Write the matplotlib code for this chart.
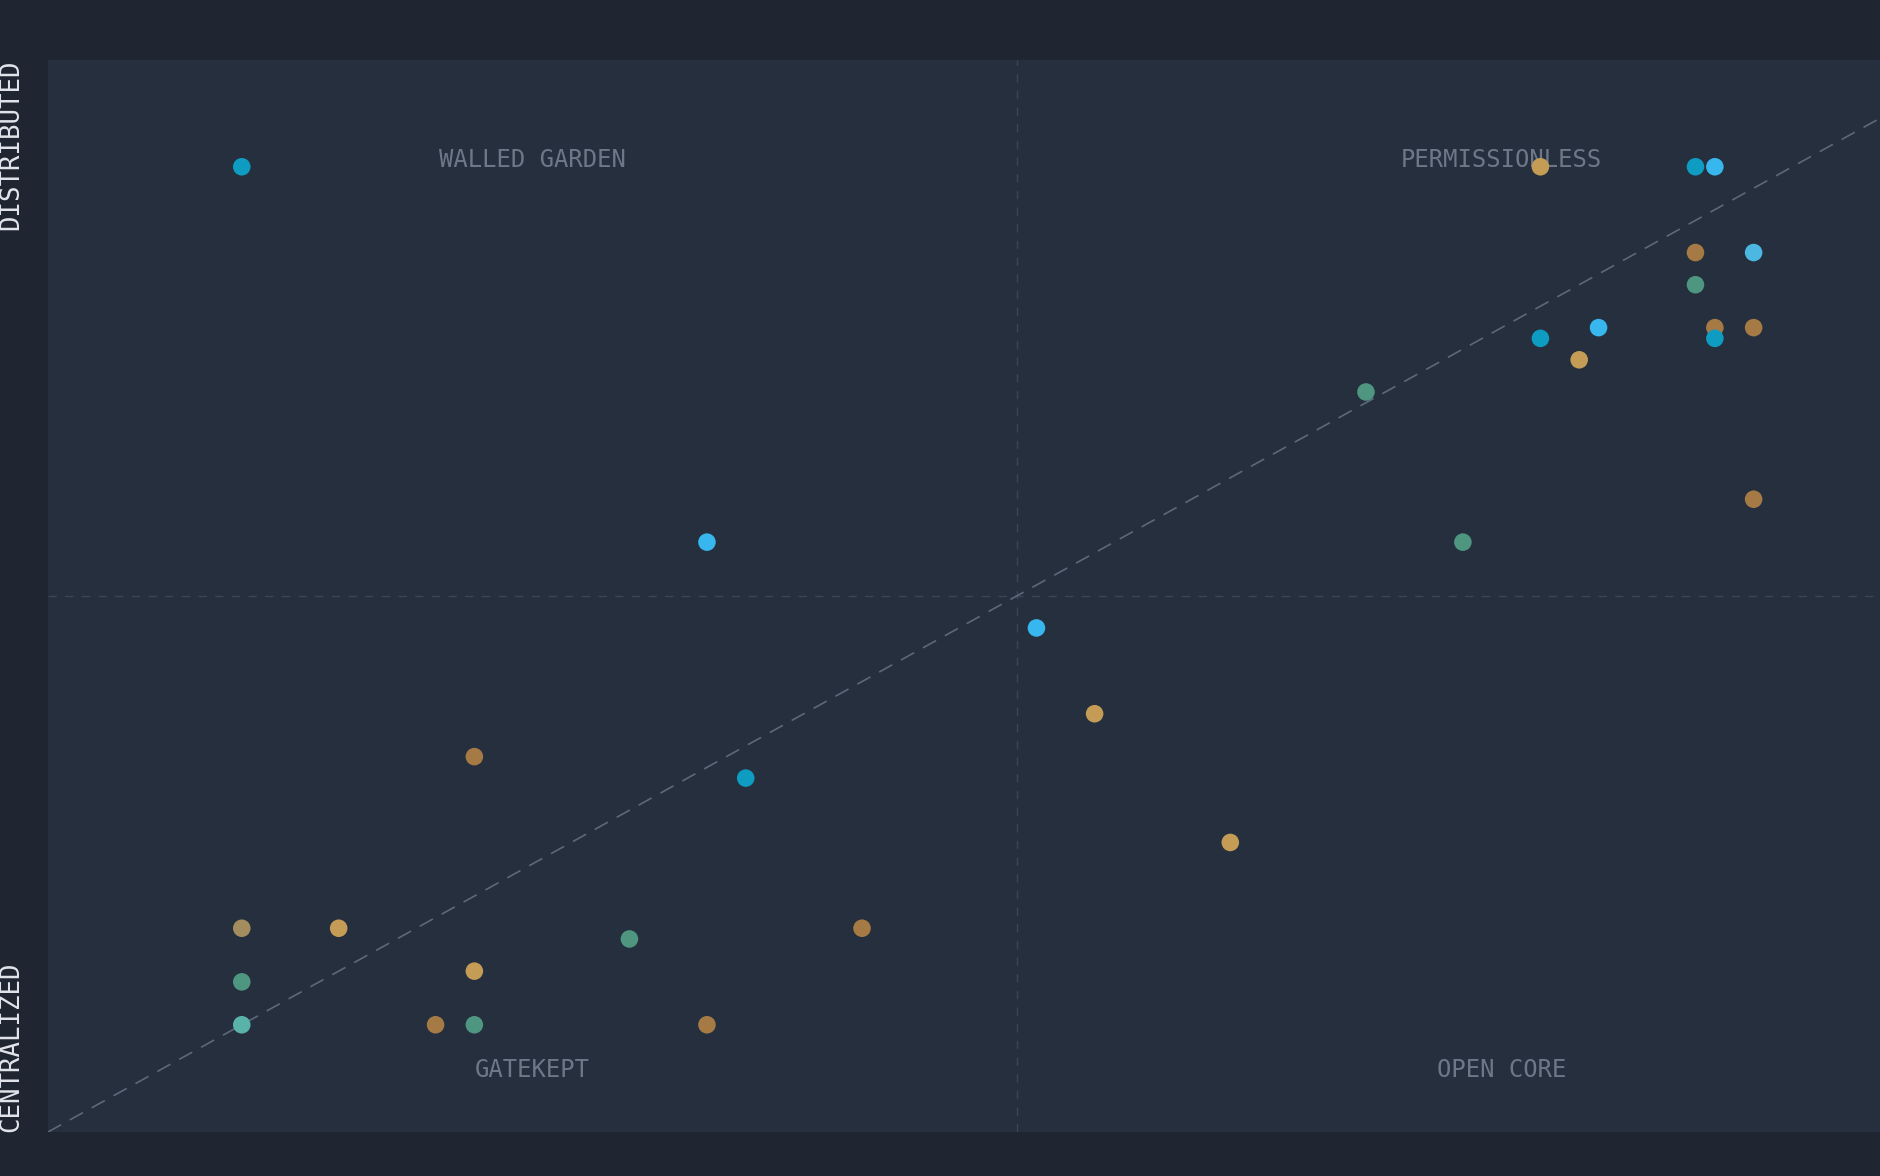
import matplotlib.pyplot as plt

# quadrant chart: access (x) vs. distribution (y)
x_vals = [10, 34, 22, 36, 10, 15, 10, 22, 10, 20, 22, 30, 34, 42,
          51, 54, 61, 68, 73, 77, 77, 79, 80, 85, 86, 85, 88, 85, 86, 86, 88, 88]
y_vals = [90, 55, 35, 33, 19, 19, 14, 15, 10, 10, 10, 18, 10, 19,
          47, 39, 27, 69, 55, 90, 74, 72, 75, 90, 90, 82, 82, 79, 75, 74, 75, 59]
groups = ['cyan', 'sky', 'bronze', 'cyan', 'khaki', 'gold', 'sage', 'gold', 'teal', 'bronze', 'sage', 'sage', 'bronze', 'bronze',
          'sky', 'gold', 'gold', 'sage', 'sage', 'gold', 'cyan', 'gold', 'sky', 'cyan', 'sky', 'bronze', 'pale', 'sage', 'bronze', 'cyan', 'bronze', 'bronze']

quadrant_labels = ['WALLED GARDEN', 'PERMISSIONLESS', 'GATEKEPT', 'OPEN CORE']
quadrant_pos = [(25, 90.6), (75, 90.6), (25, 5.8), (75, 5.8)]
axis_top = 'DISTRIBUTED'
axis_bottom = 'CENTRALIZED'

palette = {
    'cyan': '#0e9cc2',
    'sky': '#38b6ee',
    'pale': '#4cb7e0',
    'bronze': '#a57a45',
    'gold': '#c49c55',
    'khaki': '#a38c5e',
    'sage': '#4f9680',
    'teal': '#5ab3a8',
}

bg = '#1f2631'
panel = '#252f3e'

fig = plt.figure(figsize=(18.8, 11.76), dpi=100)
fig.patch.set_facecolor(bg)
ax = fig.add_axes([0.0255, 0.0374, 1.031, 0.912])
ax.set_facecolor(panel)
ax.set_xlim(0, 100)
ax.set_ylim(0, 100)
for s in ax.spines.values():
    s.set_visible(False)
ax.set_xticks([])
ax.set_yticks([])

# midlines and diagonal
ax.axvline(50, color='#3a4555', lw=1, ls=(0, (6, 6)), zorder=1)
ax.axhline(50, color='#3a4555', lw=1, ls=(0, (6, 6)), zorder=1)
ax.plot([0, 100], [0, 100], color='#5d6878', lw=1.2, ls=(0, (9, 6)), zorder=1)

for (qx, qy), lab in zip(quadrant_pos, quadrant_labels):
    ax.text(qx, qy, lab, ha='center', va='center', fontsize=17.2,
            family='DejaVu Sans Mono', color='#6d7787', zorder=2)

colors = [palette[g] for g in groups]
ax.scatter(x_vals, y_vals, s=160, c=colors, linewidths=0, zorder=3)

fig.text(0.006, 0.949, axis_top, rotation=90, ha='center', va='top',
         fontsize=18.5, family='DejaVu Sans Mono', color='#e2e6ec')
fig.text(0.006, 0.0374, axis_bottom, rotation=90, ha='center', va='bottom',
         fontsize=18.5, family='DejaVu Sans Mono', color='#e2e6ec')

fig.savefig('out.png', dpi=100, facecolor=bg)
